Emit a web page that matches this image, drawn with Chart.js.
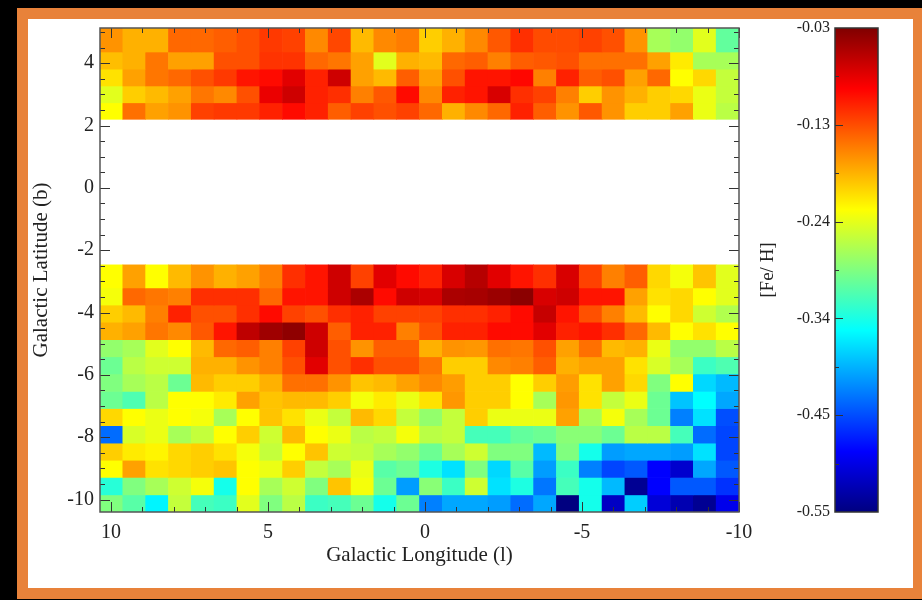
<!DOCTYPE html>
<html>
<head>
<meta charset="utf-8">
<title>[Fe/H] map of the bulge</title>
<script src="https://cdn.jsdelivr.net/npm/chart.js@4.4.1/dist/chart.umd.min.js"></script>
<style>
  html, body { margin: 0; padding: 0; background: #000; width: 922px; height: 600px; overflow: hidden; }
  #frame { position: absolute; left: 17px; top: 8px; width: 885px; height: 569px; background: #fff; border: 11px solid #e8823a; }
  canvas { position: absolute; left: 0; top: 0; }
</style>
</head>
<body>
<div id="frame"></div>
<canvas id="map" width="922" height="600"></canvas>
<canvas id="scale" width="922" height="600"></canvas>
<script>
// colour range of the [Fe/H] scale
const fehMin = -0.55;
const fehMax = -0.03;

// longitude bin centres, left (l = 10.35) to right (l = -10)
const lonCenters = [9.99, 9.26, 8.53, 7.81, 7.08, 6.35, 5.63, 4.90, 4.17, 3.45, 2.72, 1.99, 1.27, 0.54,
  -0.19, -0.91, -1.64, -2.37, -3.09, -3.82, -4.55, -5.27, -6.00, -6.73, -7.45, -8.18, -8.91, -9.64];

// latitude bin edges, top to bottom
const northEdges = [5.13, 4.36, 3.81, 3.27, 2.73, 2.2];
const southEdges = [-2.47, -3.21, -3.76, -4.31, -4.87, -5.42, -5.97, -6.53, -7.08, -7.63, -8.19, -8.74, -9.29, -9.85, -10.4];

// mean [Fe/H] per bin, north field (b > 0), top row first
const fehNorth = [
  [-0.17, -0.185, -0.185, -0.148, -0.148, -0.143, -0.136, -0.124, -0.128, -0.165, -0.131, -0.19, -0.165, -0.158,
    -0.2, -0.185, -0.165, -0.14, -0.119, -0.133, -0.133, -0.128, -0.136, -0.17, -0.27, -0.28, -0.24, -0.305],
  [-0.192, -0.185, -0.155, -0.177, -0.177, -0.136, -0.136, -0.121, -0.121, -0.148, -0.155, -0.177, -0.24, -0.185,
    -0.19, -0.148, -0.143, -0.16, -0.143, -0.14, -0.136, -0.152, -0.152, -0.152, -0.177, -0.215, -0.27, -0.27],
  [-0.21, -0.177, -0.155, -0.148, -0.136, -0.124, -0.105, -0.1, -0.08, -0.112, -0.07, -0.177, -0.19, -0.143,
    -0.177, -0.136, -0.105, -0.105, -0.098, -0.16, -0.112, -0.143, -0.136, -0.177, -0.148, -0.225, -0.205, -0.255],
  [-0.24, -0.2, -0.19, -0.177, -0.155, -0.165, -0.136, -0.085, -0.07, -0.112, -0.119, -0.16, -0.14, -0.1,
    -0.165, -0.112, -0.105, -0.075, -0.119, -0.128, -0.16, -0.2, -0.17, -0.185, -0.2, -0.205, -0.235, -0.255],
  [-0.225, -0.152, -0.177, -0.17, -0.128, -0.124, -0.124, -0.112, -0.1, -0.112, -0.143, -0.128, -0.136, -0.128,
    -0.148, -0.185, -0.165, -0.148, -0.112, -0.143, -0.17, -0.14, -0.17, -0.2, -0.2, -0.177, -0.235, -0.26],
];

// mean [Fe/H] per bin, south field (b < 0), top row first
const fehSouth = [
  [-0.225, -0.177, -0.225, -0.19, -0.17, -0.185, -0.177, -0.16, -0.119, -0.105, -0.07, -0.128, -0.08, -0.1,
    -0.112, -0.075, -0.058, -0.08, -0.105, -0.119, -0.075, -0.128, -0.16, -0.143, -0.205, -0.23, -0.195, -0.24],
  [-0.23, -0.148, -0.155, -0.16, -0.119, -0.119, -0.119, -0.148, -0.105, -0.105, -0.07, -0.052, -0.1, -0.07,
    -0.075, -0.052, -0.05, -0.044, -0.036, -0.075, -0.07, -0.105, -0.105, -0.177, -0.21, -0.205, -0.225, -0.24],
  [-0.2, -0.19, -0.16, -0.112, -0.136, -0.136, -0.119, -0.1, -0.128, -0.136, -0.119, -0.112, -0.128, -0.128,
    -0.128, -0.119, -0.119, -0.112, -0.1, -0.066, -0.105, -0.136, -0.16, -0.19, -0.225, -0.205, -0.25, -0.265],
  [-0.185, -0.177, -0.155, -0.165, -0.14, -0.105, -0.062, -0.046, -0.038, -0.07, -0.143, -0.112, -0.112, -0.16,
    -0.136, -0.112, -0.112, -0.1, -0.1, -0.08, -0.112, -0.105, -0.119, -0.148, -0.19, -0.225, -0.21, -0.225],
  [-0.28, -0.27, -0.24, -0.225, -0.19, -0.148, -0.143, -0.16, -0.128, -0.07, -0.136, -0.17, -0.143, -0.143,
    -0.185, -0.17, -0.172, -0.152, -0.155, -0.136, -0.177, -0.152, -0.19, -0.185, -0.235, -0.28, -0.28, -0.26],
  [-0.3, -0.26, -0.25, -0.25, -0.185, -0.185, -0.17, -0.16, -0.136, -0.08, -0.136, -0.119, -0.136, -0.136,
    -0.155, -0.2, -0.2, -0.165, -0.16, -0.143, -0.185, -0.177, -0.177, -0.21, -0.245, -0.27, -0.325, -0.315],
  [-0.29, -0.27, -0.26, -0.3, -0.19, -0.2, -0.2, -0.185, -0.152, -0.152, -0.17, -0.195, -0.19, -0.177,
    -0.165, -0.175, -0.2, -0.2, -0.225, -0.2, -0.175, -0.21, -0.177, -0.205, -0.29, -0.225, -0.375, -0.39],
  [-0.3, -0.315, -0.26, -0.225, -0.225, -0.215, -0.177, -0.195, -0.19, -0.19, -0.2, -0.23, -0.215, -0.235,
    -0.21, -0.172, -0.2, -0.2, -0.225, -0.27, -0.172, -0.21, -0.255, -0.235, -0.3, -0.385, -0.355, -0.4],
  [-0.205, -0.225, -0.235, -0.225, -0.23, -0.27, -0.225, -0.195, -0.21, -0.235, -0.255, -0.19, -0.205, -0.255,
    -0.28, -0.255, -0.2, -0.235, -0.235, -0.235, -0.177, -0.27, -0.23, -0.27, -0.3, -0.42, -0.37, -0.445],
  [-0.43, -0.245, -0.235, -0.27, -0.255, -0.225, -0.2, -0.25, -0.19, -0.225, -0.235, -0.26, -0.255, -0.23,
    -0.26, -0.255, -0.32, -0.32, -0.305, -0.3, -0.285, -0.285, -0.3, -0.26, -0.26, -0.32, -0.43, -0.45],
  [-0.2, -0.215, -0.22, -0.205, -0.2, -0.21, -0.23, -0.255, -0.225, -0.195, -0.25, -0.255, -0.27, -0.28,
    -0.3, -0.27, -0.25, -0.29, -0.29, -0.39, -0.29, -0.345, -0.405, -0.4, -0.4, -0.405, -0.37, -0.45],
  [-0.225, -0.177, -0.21, -0.205, -0.2, -0.195, -0.225, -0.235, -0.2, -0.255, -0.27, -0.235, -0.31, -0.3,
    -0.34, -0.37, -0.29, -0.375, -0.31, -0.405, -0.325, -0.42, -0.45, -0.44, -0.485, -0.51, -0.4, -0.44],
  [-0.335, -0.29, -0.27, -0.25, -0.23, -0.345, -0.225, -0.27, -0.25, -0.29, -0.195, -0.23, -0.3, -0.405,
    -0.285, -0.325, -0.25, -0.37, -0.34, -0.425, -0.32, -0.345, -0.39, -0.54, -0.485, -0.44, -0.44, -0.46],
  [-0.29, -0.31, -0.36, -0.255, -0.32, -0.325, -0.24, -0.29, -0.26, -0.325, -0.32, -0.3, -0.345, -0.3,
    -0.42, -0.4, -0.4, -0.405, -0.43, -0.4, -0.55, -0.345, -0.515, -0.38, -0.505, -0.525, -0.54, -0.495],
];

// colour bar ticks
const barTickValues = [-0.55, -0.446, -0.342, -0.238, -0.134, -0.03];
const barTickLabels = ['-0.55', '-0.45', '-0.34', '-0.24', '-0.13', '-0.03'];

const serif = '"Liberation Serif", "DejaVu Serif", serif';
const ink = '#222';

// IDL/matplotlib style "jet" colour table
function jet(v) {
  const t = Math.min(1, Math.max(0, (v - fehMin) / (fehMax - fehMin)));
  const ch = (k) => Math.round(255 * Math.min(1, Math.max(0, 1.5 - Math.abs(4 * t - k))));
  return `rgb(${ch(3)}, ${ch(2)}, ${ch(1)})`;
}

// one floating-bar dataset per latitude row
const rowDatasets = (rows, edges) => rows.map((row, k) => ({
  xAxisID: 'col',
  yAxisID: 'y',
  data: row.map(() => [edges[k + 1], edges[k]]),
  backgroundColor: row.map(jet),
}));

// inward tick marks on all four sides plus the box
const mapFrame = {
  id: 'mapFrame',
  afterDatasetsDraw(chart) {
    const { ctx, chartArea: a, scales: { x, y } } = chart;
    ctx.save();
    ctx.strokeStyle = '#333';
    ctx.lineWidth = 1;
    ctx.beginPath();
    for (let l = -10; l <= 10; l += 1) {
      const px = Math.round(x.getPixelForValue(l)) + 0.5;
      const len = l % 5 === 0 ? 10 : 5;
      ctx.moveTo(px, a.bottom); ctx.lineTo(px, a.bottom - len);
      ctx.moveTo(px, a.top); ctx.lineTo(px, a.top + len);
    }
    for (let b = -10; b <= 5; b += 0.5) {
      const py = Math.round(y.getPixelForValue(b)) + 0.5;
      const len = b % 2 === 0 ? 10 : 5;
      ctx.moveTo(a.left, py); ctx.lineTo(a.left + len, py);
      ctx.moveTo(a.right, py); ctx.lineTo(a.right - len, py);
    }
    ctx.stroke();
    ctx.strokeStyle = '#555';
    ctx.lineWidth = 1.5;
    ctx.strokeRect(a.left, a.top, a.right - a.left, a.bottom - a.top);
    ctx.restore();
  },
};

new Chart(document.getElementById('map'), {
  type: 'bar',
  data: {
    labels: lonCenters.map(String),
    datasets: [...rowDatasets(fehNorth, northEdges), ...rowDatasets(fehSouth, southEdges)],
  },
  options: {
    responsive: false,
    animation: false,
    layout: { padding: { left: 25, right: 183, top: 28, bottom: 28 } },
    datasets: {
      bar: { grouped: false, barPercentage: 1, categoryPercentage: 1, borderWidth: 0 },
    },
    plugins: { legend: { display: false }, tooltip: { enabled: false } },
    scales: {
      col: { type: 'category', axis: 'x', position: 'bottom', display: false, offset: true },
      x: {
        type: 'linear',
        position: 'bottom',
        reverse: true,
        offset: false,
        min: -10,
        max: 10.35,
        grid: { display: false, drawTicks: false, offset: false },
        border: { display: false },
        ticks: { stepSize: 5, includeBounds: false, padding: 9, color: ink, font: { family: serif, size: 20 } },
        title: { display: true, text: 'Galactic Longitude (l)', color: ink, font: { family: serif, size: 21 } },
        afterFit: (s) => { s.height = 60; s.paddingLeft = 0; s.paddingRight = 0; },
      },
      y: {
        type: 'linear',
        min: -10.4,
        max: 5.13,
        grid: { display: false, drawTicks: false },
        border: { display: false },
        ticks: { stepSize: 2, includeBounds: false, padding: 6, color: ink, font: { family: serif, size: 20 } },
        title: { display: true, text: 'Galactic Latitude (b)', color: ink, font: { family: serif, size: 21 } },
        afterFit: (s) => { s.width = 75; s.paddingTop = 0; s.paddingBottom = 0; },
      },
    },
  },
  plugins: [mapFrame],
});

// colour bar: a single floating bar filled with the colour table
const barFrame = {
  id: 'barFrame',
  afterDatasetsDraw(chart) {
    const { ctx, chartArea: a, scales: { y } } = chart;
    ctx.save();
    ctx.strokeStyle = '#333';
    ctx.lineWidth = 1;
    ctx.beginPath();
    barTickValues.forEach((v, i) => {
      const py = Math.round(y.getPixelForValue(v)) + 0.5;
      if (i > 0 && i < barTickValues.length - 1) {
        ctx.moveTo(a.left, py); ctx.lineTo(a.left + 8, py);
      }
      if (i > 0) {
        const pm = Math.round(y.getPixelForValue((v + barTickValues[i - 1]) / 2)) + 0.5;
        ctx.moveTo(a.left, pm); ctx.lineTo(a.left + 4, pm);
      }
    });
    ctx.stroke();
    ctx.lineWidth = 1.5;
    ctx.strokeRect(a.left, a.top, a.right - a.left, a.bottom - a.top);
    ctx.restore();
  },
};

new Chart(document.getElementById('scale'), {
  type: 'bar',
  data: {
    labels: ['[Fe/H]'],
    datasets: [{
      data: [[fehMin, fehMax]],
      borderWidth: 0,
      inflateAmount: 0,
      barPercentage: 1,
      categoryPercentage: 1,
      backgroundColor: (context) => {
        const { ctx, chartArea } = context.chart;
        if (!chartArea) return null;
        const g = ctx.createLinearGradient(0, chartArea.bottom, 0, chartArea.top);
        for (let i = 0; i <= 16; i++) {
          g.addColorStop(i / 16, jet(fehMin + (fehMax - fehMin) * i / 16));
        }
        return g;
      },
    }],
  },
  options: {
    responsive: false,
    animation: false,
    layout: { padding: { left: 753, right: 44, top: 28, bottom: 88 } },
    plugins: { legend: { display: false }, tooltip: { enabled: false } },
    scales: {
      x: { display: false },
      y: {
        min: fehMin,
        max: fehMax,
        grid: { display: false, drawTicks: false },
        border: { display: false },
        afterBuildTicks: (s) => { s.ticks = barTickValues.map((value) => ({ value })); },
        ticks: {
          autoSkip: false,
          padding: 5,
          color: ink,
          font: { family: serif, size: 16 },
          callback: (value, index) => barTickLabels[index],
        },
        title: { display: true, text: '[Fe/ H]', color: ink, font: { family: serif, size: 19 } },
        afterFit: (s) => { s.width = 82; s.paddingTop = 0; s.paddingBottom = 0; },
      },
    },
  },
  plugins: [barFrame],
});
</script>
</body>
</html>
